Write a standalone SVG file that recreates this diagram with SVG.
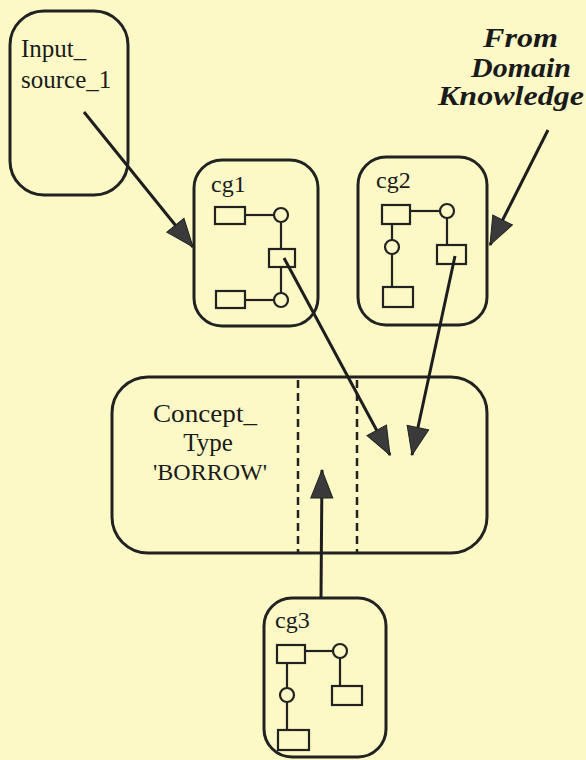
<svg xmlns="http://www.w3.org/2000/svg" width="586" height="760" viewBox="0 0 586 760">
<defs>
<style>
.box{fill:none;stroke:#222;stroke-width:3}
.el{fill:none;stroke:#222;stroke-width:2.2}
.ln{stroke:#222;stroke-width:2.2;fill:none}
.con{stroke:#1e1e1e;stroke-width:3;fill:none;marker-end:url(#ah)}
.t{font-family:"Liberation Serif","Times New Roman",serif;fill:#1a1a1a}
.dk{font-size:27px;font-weight:bold;font-style:italic}
.dash{stroke:#222;stroke-width:2.5;stroke-dasharray:8 5;fill:none}
</style>
<marker id="ah" viewBox="-30 -13 32 26" refX="0" refY="0" markerWidth="32" markerHeight="26" markerUnits="userSpaceOnUse" orient="auto">
<path d="M0,0 L-28,-11 L-28,11 Z" fill="#3a3a3a" stroke="#222" stroke-width="1"/>
</marker>
</defs>
<rect x="0" y="0" width="586" height="760" fill="#FCF9C6"/>

<g id="input_source_1">
<rect class="box" x="10" y="11" width="118" height="184" rx="34" ry="34"/>
<text class="t" x="21" y="57" font-size="25">Input_</text>
<text class="t" x="21" y="88" font-size="25">source_1</text>
</g>

<g id="domain_knowledge">
<text class="t dk" x="483" y="47" textLength="75" lengthAdjust="spacingAndGlyphs">From</text>
<text class="t dk" x="471" y="77" textLength="100" lengthAdjust="spacingAndGlyphs">Domain</text>
<text class="t dk" x="438" y="105" textLength="146" lengthAdjust="spacingAndGlyphs">Knowledge</text>
</g>

<g id="cg1">
<rect class="box" x="194" y="160" width="124" height="166" rx="28" ry="28"/>
<text class="t" x="211" y="192" font-size="24">cg1</text>
<rect class="el" x="215" y="207" width="30" height="17"/>
<line class="ln" x1="245" y1="215" x2="274" y2="215"/>
<circle class="el" cx="281" cy="215" r="7"/>
<line class="ln" x1="281" y1="222" x2="281" y2="249"/>
<rect class="el" x="269" y="249" width="26" height="18"/>
<line class="ln" x1="281" y1="267" x2="281" y2="293"/>
<circle class="el" cx="281" cy="300" r="7"/>
<line class="ln" x1="245" y1="300" x2="274" y2="300"/>
<rect class="el" x="216" y="291" width="29" height="17"/>
</g>

<g id="cg2">
<rect class="box" x="358" y="157" width="129" height="168" rx="28" ry="28"/>
<text class="t" x="376" y="188" font-size="24">cg2</text>
<rect class="el" x="382" y="205" width="28" height="19"/>
<line class="ln" x1="410" y1="211" x2="440" y2="211"/>
<circle class="el" cx="447" cy="211" r="7"/>
<line class="ln" x1="447" y1="218" x2="447" y2="245"/>
<rect class="el" x="437" y="245" width="29" height="19"/>
<line class="ln" x1="392" y1="224" x2="392" y2="240"/>
<circle class="el" cx="392" cy="247" r="7"/>
<line class="ln" x1="392" y1="254" x2="392" y2="287"/>
<rect class="el" x="383" y="287" width="30" height="20"/>
</g>

<g id="concept_type_borrow">
<rect class="box" x="112" y="377" width="375" height="176" rx="36" ry="36"/>
<line class="dash" x1="298" y1="380" x2="298" y2="552"/>
<line class="dash" x1="357" y1="380" x2="357" y2="552"/>
<text class="t" x="205" y="422" font-size="25" text-anchor="middle" textLength="104" lengthAdjust="spacingAndGlyphs">Concept_</text>
<text class="t" x="208" y="451" font-size="25" text-anchor="middle">Type</text>
<text class="t" x="210" y="480" font-size="24" text-anchor="middle">'BORROW'</text>
</g>

<g id="cg3">
<rect class="box" x="264" y="598" width="122" height="159" rx="28" ry="28"/>
<text class="t" x="275" y="628" font-size="24">cg3</text>
<rect class="el" x="277" y="645" width="28" height="18"/>
<line class="ln" x1="305" y1="651" x2="333" y2="651"/>
<circle class="el" cx="340" cy="651" r="7"/>
<line class="ln" x1="340" y1="658" x2="340" y2="686"/>
<rect class="el" x="332" y="686" width="30" height="19"/>
<line class="ln" x1="287" y1="663" x2="287" y2="688"/>
<circle class="el" cx="287" cy="695" r="7"/>
<line class="ln" x1="287" y1="702" x2="287" y2="730"/>
<rect class="el" x="278" y="730" width="31" height="20"/>
</g>

<g id="connectors">
<line class="con" x1="84" y1="112" x2="193" y2="247"/>
<line class="con" x1="548" y1="130" x2="490" y2="245"/>
<line class="con" x1="284" y1="258" x2="390" y2="455"/>
<line class="con" x1="455" y1="256" x2="412" y2="455"/>
<line class="con" x1="321" y1="598" x2="322" y2="470"/>
</g>
</svg>
